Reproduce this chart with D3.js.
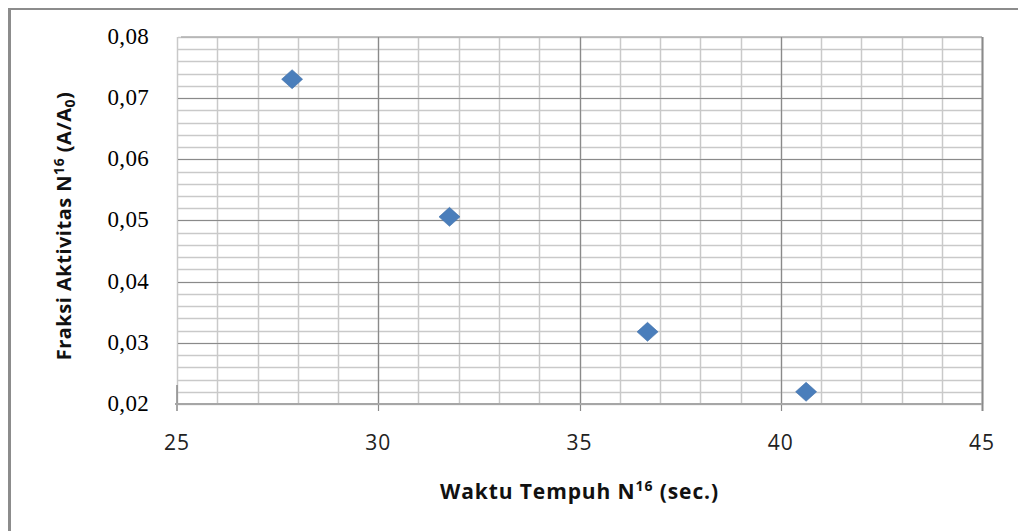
<!DOCTYPE html>
<html>
<head>
<meta charset="utf-8">
<script src="https://cdn.jsdelivr.net/npm/d3@7"></script>
<style>
  html, body { margin: 0; padding: 0; background: #fff; }
  svg { display: block; }
</style>
</head>
<body>
<svg id="chart" width="1018" height="531"></svg>
<script>
// ---- data ----
const waktuTempuh = [27.86, 31.77, 36.69, 40.63];      // x: sec.
const fraksiAktivitas = [0.0731, 0.0506, 0.0318, 0.0220]; // y: A/A0
const xTicks = [25, 30, 35, 40, 45];
const yTicks = [0.02, 0.03, 0.04, 0.05, 0.06, 0.07, 0.08];
const yTickLabels = ["0,02", "0,03", "0,04", "0,05", "0,06", "0,07", "0,08"];
const xMinorTicks = d3.range(25, 46, 1);
const yMinorTicks = d3.range(20, 81, 2).map(v => v / 1000);

const svg = d3.select("#chart");
const x = d3.scaleLinear().domain([25, 45]).range([177, 982]);
const y = d3.scaleLinear().domain([0.02, 0.08]).range([404, 37]);

// outer frame (only top and left visible)
svg.append("line").attr("x1", 9.5).attr("x2", 9.5).attr("y1", 8).attr("y2", 531)
  .attr("stroke", "#8c8c8c").attr("stroke-width", 3);
svg.append("line").attr("x1", 8).attr("x2", 1018).attr("y1", 9).attr("y2", 9)
  .attr("stroke", "#8c8c8c").attr("stroke-width", 2);

const grid = svg.append("g");
// minor horizontal
grid.selectAll(".hmin").data(yMinorTicks).join("line")
  .attr("x1", x(25) + 1).attr("x2", x(45))
  .attr("y1", d => Math.round(y(d)) + 0.5).attr("y2", d => Math.round(y(d)) + 0.5)
  .attr("stroke", "#c9c9c9").attr("stroke-width", 1.5);
// minor vertical
grid.selectAll(".vmin").data(xMinorTicks).join("line")
  .attr("x1", d => Math.round(x(d)) + 0.5).attr("x2", d => Math.round(x(d)) + 0.5)
  .attr("y1", y(0.08)).attr("y2", y(0.02))
  .attr("stroke", "#c9c9c9").attr("stroke-width", 1.5);
// major horizontal
grid.selectAll(".hmaj").data(yTicks.filter(d => d > 0.02 && d < 0.08)).join("line")
  .attr("x1", x(25) + 1).attr("x2", x(45))
  .attr("y1", d => Math.round(y(d)) + 0.5).attr("y2", d => Math.round(y(d)) + 0.5)
  .attr("stroke", "#8a8a8a").attr("stroke-width", 1.2);
// top line
grid.append("line").attr("x1", x(25) + 4).attr("x2", x(45))
  .attr("y1", y(0.08)).attr("y2", y(0.08))
  .attr("stroke", "#b0b0b0").attr("stroke-width", 1.5);
// major vertical with ticks
grid.selectAll(".vmaj").data(xTicks.filter(d => d > 25)).join("line")
  .attr("x1", d => Math.round(x(d)) + 0.5).attr("x2", d => Math.round(x(d)) + 0.5)
  .attr("y1", y(0.08)).attr("y2", y(0.02) + 7)
  .attr("stroke", "#8a8a8a").attr("stroke-width", d => d === 45 ? 2 : 1.2);
// left axis stub
grid.append("line").attr("x1", x(25)).attr("x2", x(25))
  .attr("y1", y(0.02) - 19).attr("y2", y(0.02) + 7)
  .attr("stroke", "#8a8a8a").attr("stroke-width", 1.5);
// x axis line
grid.append("line").attr("x1", x(25) - 2).attr("x2", x(45))
  .attr("y1", y(0.02)).attr("y2", y(0.02))
  .attr("stroke", "#a6a6a6").attr("stroke-width", 2);

// y tick labels
svg.append("g").selectAll("text").data(yTicks).join("text")
  .attr("x", 149).attr("y", d => y(d))
  .attr("dy", "0.3em")
  .attr("text-anchor", "end")
  .attr("font-family", "Liberation Serif, serif")
  .attr("font-size", 23)
  .attr("letter-spacing", 0.3)
  .attr("fill", "#000")
  .text((d, i) => yTickLabels[i]);

// x tick labels
svg.append("g").selectAll("text").data(xTicks).join("text")
  .attr("x", d => x(d)).attr("y", 450)
  .attr("text-anchor", "middle")
  .attr("font-family", "Open Sans, sans-serif")
  .attr("font-size", 21)
  .attr("letter-spacing", 1)
  .attr("fill", "#222")
  .text(d => d);

// x axis title
const xt = svg.append("text")
  .attr("x", (x(25) + x(45)) / 2).attr("y", 499)
  .attr("text-anchor", "middle")
  .attr("font-family", "Open Sans, sans-serif")
  .attr("font-weight", "bold")
  .attr("font-size", 21)
  .attr("letter-spacing", 0.9)
  .attr("fill", "#111");
xt.append("tspan").text("Waktu Tempuh N");
xt.append("tspan").attr("font-size", 14).attr("dy", -8).text("16");
xt.append("tspan").attr("dy", 8).text(" (sec.)");

// y axis title
const yt = svg.append("text")
  .attr("transform", `translate(71, ${226}) rotate(-90)`)
  .attr("text-anchor", "middle")
  .attr("font-family", "Open Sans, sans-serif")
  .attr("font-weight", "bold")
  .attr("font-size", 20)
  .attr("letter-spacing", 0.5)
  .attr("fill", "#111");
yt.append("tspan").text("Fraksi Aktivitas N");
yt.append("tspan").attr("font-size", 14).attr("dy", -7).text("16");
yt.append("tspan").attr("dy", 7).text(" (A/A");
yt.append("tspan").attr("font-size", 14).attr("dy", 4).text("0");
yt.append("tspan").attr("dy", -4).text(")");

// markers
const pts = waktuTempuh.map((v, i) => ({ x: v, y: fraksiAktivitas[i] }));
svg.append("g").selectAll("path").data(pts).join("path")
  .attr("transform", d => `translate(${x(d.x)}, ${y(d.y)})`)
  .attr("d", "M0,-9.5 L10.5,0 L0,9.5 L-10.5,0 Z")
  .attr("fill", "#4A7EBB")
  .attr("stroke", "#3f6fa8")
  .attr("stroke-width", 0.6);
</script>
</body>
</html>
